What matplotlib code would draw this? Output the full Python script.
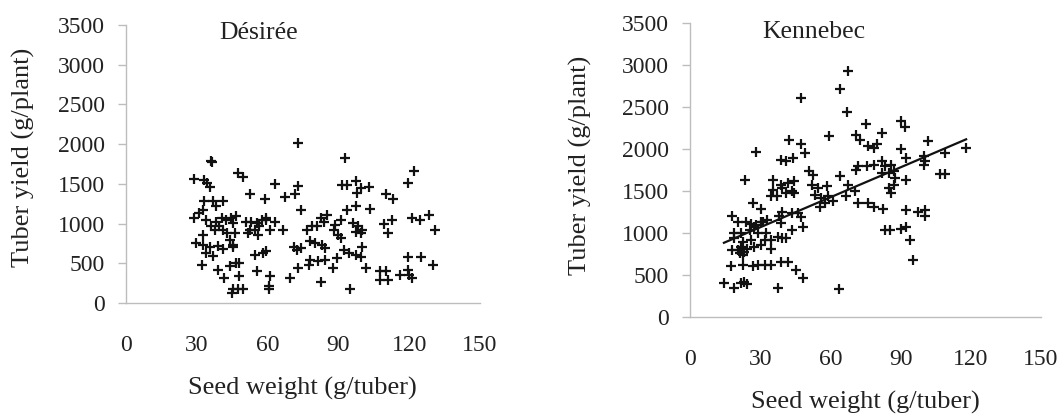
import matplotlib
matplotlib.use("Agg")
import matplotlib.pyplot as plt
import numpy as np

plt.rcParams['font.family'] = ['Liberation Serif', 'DejaVu Serif']

# ---------------- data ----------------
titles = ["Désirée", "Kennebec"]
x_label = "Seed weight (g/tuber)"
y_label = "Tuber yield (g/plant)"
x_ticks = [0, 30, 60, 90, 120, 150]
y_ticks = [0, 500, 1000, 1500, 2000, 2500, 3000, 3500]

desiree_x = [73, 93, 36, 36.5, 122, 47.5, 49.5, 29, 33, 34.5,
             35.5, 119.5, 63, 73, 71.5, 67.5, 52.5, 59, 91.5, 93.5,
             97.5, 99.5, 103, 110, 113, 98, 33, 37, 41, 38,
             74, 93.5, 97.5, 103.5, 85, 128.5, 121, 124.5, 112.5, 109.5,
             111, 131, 29, 31, 32.5, 38, 40.5, 42.5, 44.5, 39.5,
             41, 43, 45.5, 46.5, 36, 34, 37.5, 44, 45.5, 46,
             29.5, 32.5, 35.5, 39, 41, 45.5, 32.5, 34, 37, 32,
             39, 41.5, 44, 46.5, 48, 45.5, 47.5, 49.5, 45, 48,
             51, 53, 55.5, 57.5, 59.5, 52.5, 54.5, 56.5, 61, 63,
             56, 51.5, 59.5, 66.5, 54.5, 58, 59.5, 55.5, 60.5, 60.5,
             61, 69.5, 73, 71, 74, 72.5, 76.5, 79, 81, 78,
             80, 83, 84.5, 82.5, 84, 78, 81.5, 84.5, 77.5, 87.5,
             82.5, 88, 90, 91, 88.5, 91, 89.5, 92.5, 94.5, 97.5,
             99.5, 95, 101.5, 100, 96, 98.5, 100, 97.5, 99.5, 107.5,
             110, 107.5, 111, 116, 119.5, 120, 121, 119.5, 125, 130]
desiree_y = [2020, 1820, 1790, 1770, 1665, 1640, 1590, 1560, 1550, 1510,
             1465, 1515, 1500, 1475, 1370, 1340, 1370, 1305, 1485, 1485,
             1530, 1445, 1465, 1375, 1305, 1385, 1280, 1280, 1280, 1215,
             1175, 1175, 1215, 1180, 1110, 1110, 1070, 1050, 1040, 995,
             880, 920, 1070, 1130, 1175, 1025, 1070, 1050, 1070, 965,
             920, 880, 1005, 1090, 965, 1050, 920, 795, 710, 880,
             755, 735, 710, 720, 680, 735, 860, 630, 595, 480,
             420, 315, 460, 500, 500, 170, 170, 170, 125, 345,
             1025, 1025, 1005, 1050, 1040, 920, 920, 965, 920, 1015,
             860, 880, 1070, 920, 610, 630, 650, 400, 210, 170,
             335, 315, 440, 710, 690, 670, 920, 965, 965, 775,
             755, 735, 690, 1070, 1025, 545, 525, 545, 480, 440,
             270, 920, 860, 815, 985, 1050, 565, 670, 630, 610,
             585, 170, 440, 710, 1005, 965, 920, 900, 880, 400,
             400, 295, 295, 355, 420, 355, 315, 585, 585, 480]

kennebec_x = [67.5, 64, 67, 47.5, 75, 90, 92, 59.5, 71, 72.5,
              76, 78.5, 80, 82, 101.5, 109, 118, 90, 92.5, 100,
              100, 107, 109, 42.5, 47.5, 44, 49, 39, 41, 28,
              23.5, 51, 52.5, 35.5, 39, 42, 44.5, 39.5, 43.5, 41,
              35.5, 37, 34.5, 44.5, 52, 54.5, 58.5, 53.5, 56, 59,
              57.5, 55.5, 61, 64, 67.5, 71, 70.5, 66.5, 72, 75.5,
              78.5, 82, 83.5, 86, 87, 82, 85, 87.5, 87, 86,
              92.5, 85, 72, 76, 78.5, 82.5, 92.5, 97.5, 100.5, 100.5,
              83.5, 85.5, 90, 92.5, 94, 95.5, 63.5, 18, 27, 30.5,
              20.5, 24, 27.5, 31, 33, 30.5, 19, 22, 25.5, 29,
              19, 22.5, 26, 32, 34.5, 18, 22, 24.5, 22.5, 23,
              27.5, 30.5, 34.5, 37.5, 39.5, 41, 38, 39.5, 43.5, 46,
              47.5, 39, 43.5, 48.5, 32.5, 17.5, 22.5, 27, 29, 32,
              34.5, 39, 42, 45.5, 48.5, 14.5, 19, 22, 24.5, 23,
              37.5, 26, 28, 21.5, 20.5, 100.5]
kennebec_y = [2930, 2710, 2445, 2610, 2300, 2330, 2260, 2160, 2170, 2110,
              2030, 2010, 2065, 2190, 2090, 1955, 2010, 1995, 1895, 1915,
              1805, 1705, 1705, 2110, 2065, 1895, 1955, 1865, 1855, 1965,
              1625, 1735, 1695, 1635, 1575, 1600, 1615, 1535, 1495, 1475,
              1515, 1435, 1435, 1480, 1575, 1535, 1555, 1455, 1415, 1435,
              1355, 1315, 1375, 1675, 1575, 1755, 1495, 1435, 1795, 1795,
              1815, 1855, 1795, 1815, 1735, 1715, 1715, 1655, 1575, 1475,
              1635, 1535, 1355, 1355, 1315, 1285, 1275, 1255, 1275, 1205,
              1035, 1030, 1045, 1075, 915, 675, 330, 1205, 1355, 1285,
              1135, 1135, 1075, 1135, 1155, 1125, 995, 995, 1035, 995,
              935, 895, 915, 915, 915, 795, 835, 815, 735, 775,
              835, 855, 815, 955, 935, 945, 1205, 1255, 1235, 1235,
              1195, 1115, 1035, 1075, 995, 605, 620, 605, 620, 625,
              625, 660, 660, 560, 460, 405, 350, 405, 390, 420,
              340, 1110, 1100, 760, 800, 1860]

# regression line: yield = intercept + slope * weight
kennebec_fit = [711, 11.9]

# ---------------- figure ----------------
W, H = 1064, 416
fig = plt.figure(figsize=(W / 100, H / 100), dpi=100)

def px_axes(x0, x1, y_top, y_bot):
    return fig.add_axes([x0 / W, 1 - y_bot / H, (x1 - x0) / W, (y_bot - y_top) / H])

ax1 = px_axes(126, 480, 25, 303)
ax2 = px_axes(690, 1041, 23, 317)

axis_col = '#bdbdbd'
txt_col = '#222222'
for ax in (ax1, ax2):
    ax.set_xlim(0, 150)
    ax.set_ylim(0, 3500)
    ax.set_xticks(x_ticks)
    ax.set_yticks(y_ticks)
    ax.spines['top'].set_visible(False)
    ax.spines['right'].set_visible(False)
    ax.spines['left'].set_color(axis_col)
    ax.spines['bottom'].set_color(axis_col)
    ax.spines['left'].set_linewidth(1.0)
    ax.spines['bottom'].set_linewidth(1.0)
    ax.tick_params(axis='y', direction='out', length=5.5, width=1.0,
                   color=axis_col, pad=9.5, labelsize=17, labelcolor=txt_col)
    ax.tick_params(axis='x', direction='out', length=0, pad=23,
                   labelsize=17, labelcolor=txt_col)
    ax.patch.set_alpha(0)

ax1.plot(desiree_x, desiree_y, '+', color='#111111', ms=7.5, mew=1.6, clip_on=False)
ax2.plot(kennebec_x, kennebec_y, '+', color='#111111', ms=7.5, mew=1.6, clip_on=False)

xl = np.array([min(kennebec_x), max(kennebec_x)])
ax2.plot(xl, kennebec_fit[0] + kennebec_fit[1] * xl, color='#111111', lw=1.6)

# titles inside the plots
fig.text(259 / W, 1 - 33 / H, titles[0], fontsize=18.5, color=txt_col, ha='center', va='center')
fig.text(814 / W, 1 - 32 / H, titles[1], fontsize=18.5, color=txt_col, ha='center', va='center')

# axis labels
fig.text(302 / W, 1 - 388 / H, x_label, fontsize=19, color=txt_col, ha='center', va='center')
fig.text(865 / W, 1 - 402 / H, x_label, fontsize=19, color=txt_col, ha='center', va='center')
fig.text(23 / W, 1 - 157 / H, y_label, fontsize=19, color=txt_col, ha='center', va='center', rotation=90)
fig.text(580 / W, 1 - 165 / H, y_label, fontsize=19, color=txt_col, ha='center', va='center', rotation=90)

fig.savefig('out.png', dpi=100, facecolor='white')
